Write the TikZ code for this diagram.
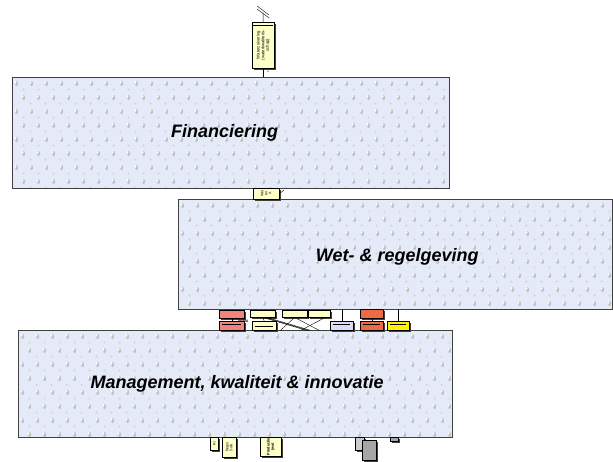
\documentclass[tikz,border=0pt]{standalone}
\usepackage{fontspec}
\setmainfont{Liberation Sans}
\usetikzlibrary{positioning,calc,shadows}

\definecolor{rainblue}{HTML}{E4EAF8}
\definecolor{cream}{HTML}{FFFFC8}
\definecolor{salmon}{HTML}{F4837D}
\definecolor{rust}{HTML}{EE6A45}
\definecolor{lavender}{HTML}{DCDCF8}

% droplets inside a named box
\newcommand{\droprain}[1]{%
  \begin{scope}
  \clip (#1.north west) rectangle (#1.south east);
  \foreach \j [evaluate=\j as \dx using {mod(\j,2)*7}] in {0,...,8} {
    \foreach \i in {0,...,30} {
      \fill[black!24] ($(#1.north west)+(\i*15+\dx+4.6,\j*14+6.6)$) ellipse (1.5 and 2.5);
      \fill[white] ($(#1.north west)+(\i*15+\dx+3.6,\j*14+5.4)$) ellipse (0.9 and 1.4);
      \fill[black!22] ($(#1.north west)+(\i*15+\dx+11.4,\j*14+12.4)$) circle (1.1);
      \fill[white] ($(#1.north west)+(\i*15+\dx+11,\j*14+12)$) circle (0.6);
    }
  }
  \end{scope}
  \draw[black!75, line width=1pt] (#1.north west) rectangle (#1.south east);}

\begin{document}
\begin{tikzpicture}[x=1pt,y=-1pt,
  bigbox/.style={fill=rainblue, anchor=north west, inner sep=0pt},
  biglabel/.style={font=\bfseries\itshape\fontsize{18}{21}\selectfont},
  smallbox/.style={draw=black, line width=0.4pt, fill=cream, anchor=north west, inner sep=0pt,
    drop shadow={shadow xshift=2pt, shadow yshift=-2pt, fill=black!75, opacity=1}},
  tinytext/.style={font=\fontsize{3.6}{4}\selectfont, align=center, rotate=90},
  wire/.style={draw=black, line width=0.4pt}]

\useasboundingbox[fill=white] (0,0) rectangle (613,461);

% the three domains
\node[bigbox, minimum width=437pt, minimum height=111pt] (fin) at (12,77) {};
\droprain{fin}
\node[biglabel] (finlabel) at ($(fin.center)+(-6,0)$) {Financiering};

\node[bigbox, minimum width=434pt, minimum height=110pt] (wet) at (178,199) {};
\droprain{wet}
\node[biglabel] (wetlabel) at ($(wet.center)+(2,3)$) {Wet- \& regelgeving};

\node[bigbox, minimum width=434pt, minimum height=107pt] (man) at (18,330) {};
\droprain{man}
\node[biglabel] (manlabel) at ($(man.center)+(2,0)$) {Management, kwaliteit \& innovatie};

% top actor
\node[smallbox, minimum width=22pt, minimum height=46pt] (top) at (252,22) {};
\node[tinytext, font=\fontsize{4.2}{4.6}\selectfont] (toptext) at (top.center) {Waterzuivering\\(waterkwaliteits-\\schap)};
\coordinate (ant) at (263,12);
\draw[wire] (ant) -- (top.north);
\draw[wire] (257,6) -- (269,15);
\draw[wire] (257,9) -- (269,18);
\draw[line width=0.8pt] ($(top.north west)+(1,3)$) -- ($(top.north east)+(-1,3)$);
\draw[wire] (top.south) -- (top.south |- fin.north);
\node[font=\fontsize{3}{3.4}\selectfont, rotate=90] (topmark) at (268,72) {s};

% between financiering and wet
\node[smallbox, minimum width=26pt, minimum height=11pt] (link) at (253,188) {};
\node[tinytext] (linktext) at (link.center) {Wet\\ter\\A};
\coordinate (linkend) at (284,190);
\draw[wire] (link.east) -- (linkend);

% between wet and management: upper row
\node[smallbox, fill=salmon, minimum width=25pt, minimum height=8pt] (r1) at (219,310) {};
\node[smallbox, minimum width=25pt, minimum height=7pt] (c1) at (250,310) {};
\node[smallbox, minimum width=25pt, minimum height=7pt] (c2) at (282,310) {};
\node[smallbox, minimum width=22pt, minimum height=7pt] (c3) at (308,310) {};
\node[smallbox, fill=rust, minimum width=23pt, minimum height=9pt] (o1) at (360,309) {};

% lower row
\node[smallbox, fill=salmon, minimum width=25pt, minimum height=9pt] (r2) at (219,321) {};
\node[smallbox, minimum width=24pt, minimum height=9pt] (c4) at (252,321) {};
\node[smallbox, fill=lavender, minimum width=23pt, minimum height=9pt] (l1) at (330,321) {};
\node[smallbox, fill=rust, minimum width=23pt, minimum height=9pt] (o2) at (360,321) {};
\node[smallbox, fill=yellow, minimum width=22pt, minimum height=9pt] (y1) at (387,321) {};
\node[font=\bfseries\fontsize{3.5}{4}\selectfont, anchor=east] (sbma) at (c4.north west) {SBMA};

\draw[wire] (r1.south) -- (r2.north);
\draw[wire] (c1.south) -- (c4.north);
\draw[wire] (o1.south) -- (o2.north);
\draw[wire] (c1.south) -- ($(c2.south)+(12,13)$);
\draw[wire] ($(c1.south)+(2,0)$) -- ($(c2.south)+(14,13)$);
\draw[wire] ($(c1.south)+(4,0)$) -- ($(c2.south)+(16,13)$);
\draw[wire] (c2.south) -- ($(c4.south east)+(4,0)$);
\draw[wire] (c2.south) -- ($(c3.south)+(0,13)$);
\draw[wire] ($(c3.south)+(6,0)$) -- ($(c2.south)+(6,13)$);
\draw[wire] (l1.north) -- (l1.north |- wet.south);
\draw[wire] (y1.north) -- (y1.north |- wet.south);
\draw[line width=0.8pt] ($(c4.north west)+(3,5)$) -- ($(c4.north east)+(-3,5)$);
\draw[line width=0.8pt] ($(r2.north west)+(3,3)$) -- ($(r2.north east)+(-3,3)$);
\draw[line width=0.8pt] ($(l1.north west)+(3,3)$) -- ($(l1.north east)+(-3,3)$);
\draw[line width=0.8pt] ($(o2.north west)+(3,3)$) -- ($(o2.north east)+(-3,3)$);
\draw[line width=0.8pt] ($(y1.north west)+(3,3)$) -- ($(y1.north east)+(-3,3)$);

% below management
\node[smallbox, minimum width=8pt, minimum height=13pt] (b1) at (210,437) {};
\node[tinytext] (b1text) at (b1.center) {Ri};
\node[smallbox, minimum width=14pt, minimum height=20pt] (b2) at (222,437) {};
\node[tinytext] (b2text) at (b2.center) {Regio\\Solo.};
\node[smallbox, minimum width=21pt, minimum height=19pt] (b3) at (260,437) {};
\node[tinytext, font=\bfseries\fontsize{3.8}{4.2}\selectfont] (b3text) at (b3.center) {Productie\\(wat};
\node[smallbox, fill=black!20, minimum width=9pt, minimum height=13pt] (g1) at (355,437) {};
\node[smallbox, fill=black!35, minimum width=14pt, minimum height=20pt] (g2) at (362,440) {};
\node[smallbox, fill=black!35, minimum width=8pt, minimum height=4pt] (g3) at (390,437) {};
\end{tikzpicture}
\end{document}
